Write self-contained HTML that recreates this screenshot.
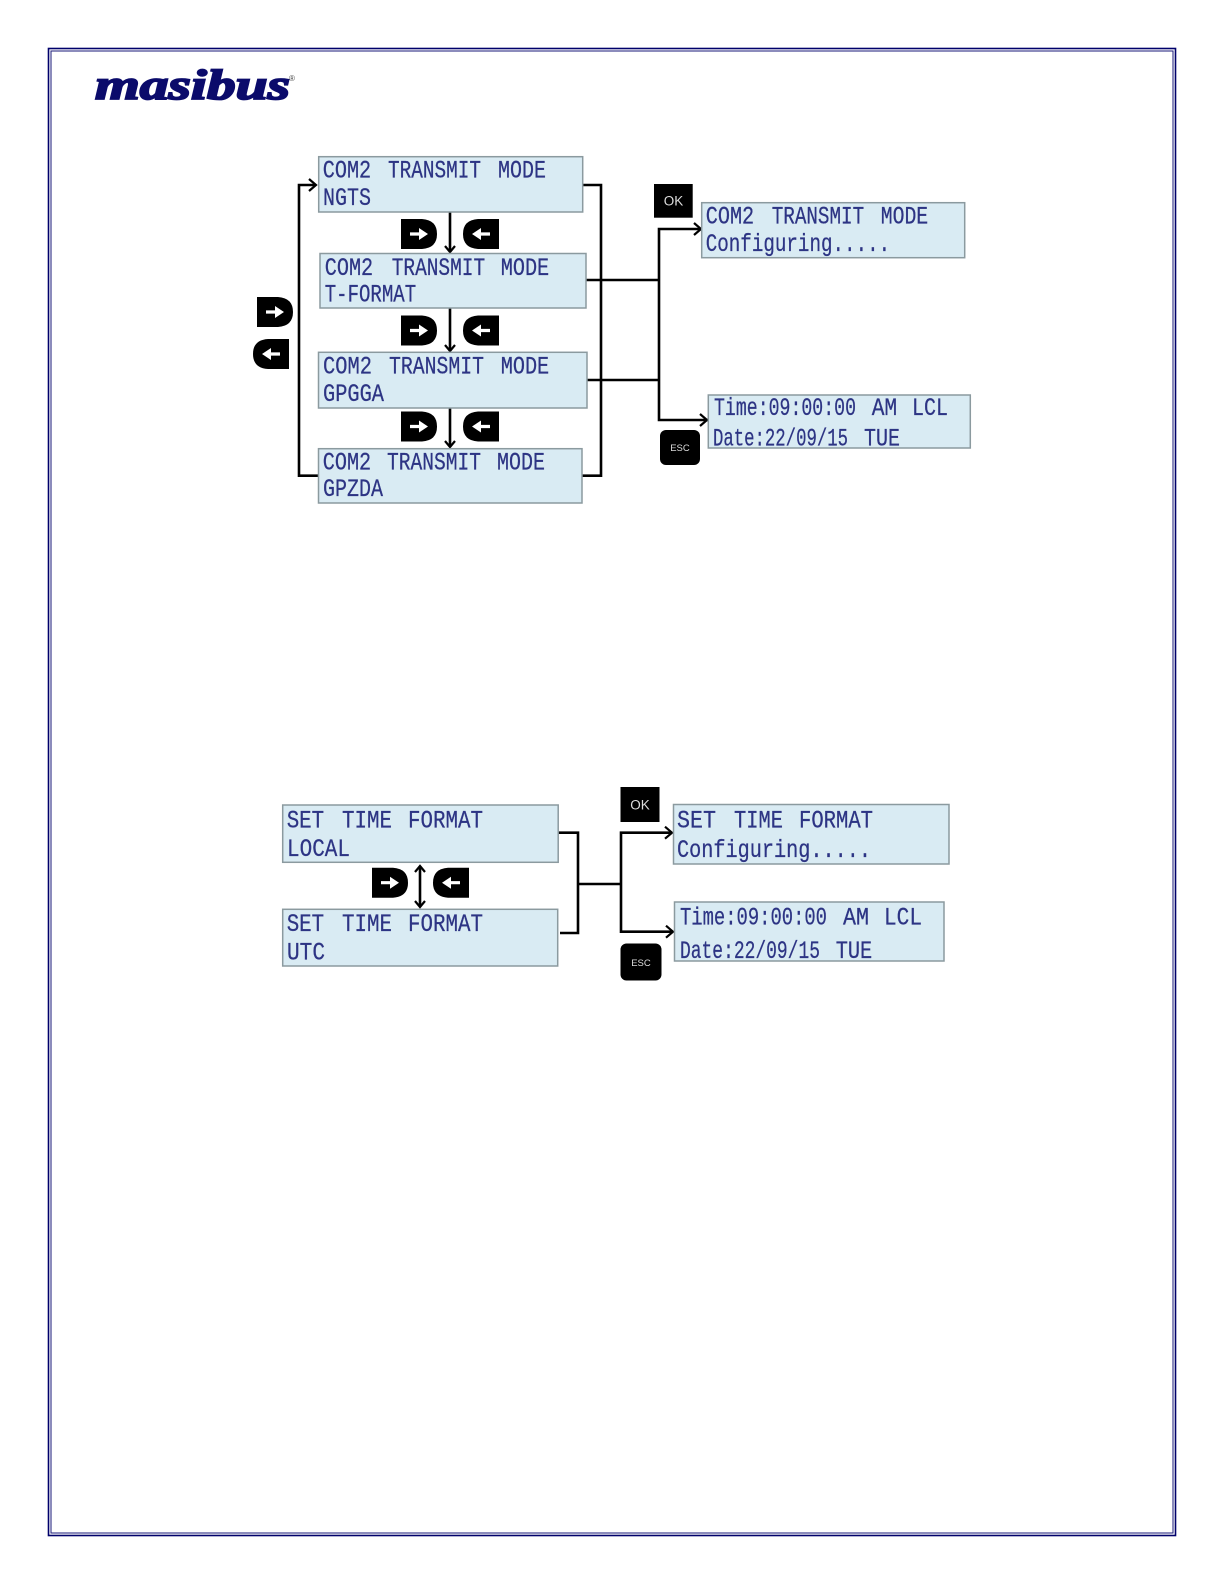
<!DOCTYPE html>
<html><head><meta charset="utf-8"><style>
html,body{margin:0;padding:0;background:#fff}
svg{display:block}
text{font-family:"Liberation Sans",sans-serif}
.t text{font-family:"Liberation Mono",monospace;font-size:25px;fill:#2d3484;stroke:#2d3484;stroke-width:.25}
.b{fill:#d9ebf3;stroke:#8b9a9f;stroke-width:1.5}
.l{fill:none;stroke:#000;stroke-width:2.6}
.a{fill:none;stroke:#000;stroke-width:2.2}
.k{font-size:12px;fill:#ddd;text-anchor:middle}
</style></head><body>
<svg width="1224" height="1584" viewBox="0 0 1224 1584" xmlns="http://www.w3.org/2000/svg">
<defs>
<g id="R"><path d="M0 0H21Q36 1 36 15Q36 29 21 30H0Z" fill="#000"/><path d="M9 13.4H18V9L27 15L18 21V16.6H9Z" fill="#fff"/></g>
<g id="L"><path d="M36 0H15Q0 1 0 15Q0 29 15 30H36Z" fill="#000"/><path d="M27 13.4H18V9L9 15L18 21V16.6H27Z" fill="#fff"/></g>
</defs>
<rect x="48.5" y="48.5" width="1127" height="1487" fill="none" stroke="#00006b" stroke-width="1.6"/>
<rect x="51" y="51" width="1122" height="1482" fill="none" stroke="#1a1a78" stroke-width="1"/>

<text x="95" y="99" font-size="42" font-weight="bold" font-style="italic" fill="#0b0b6b" stroke="#0b0b6b" stroke-width="1.8" textLength="195" lengthAdjust="spacingAndGlyphs" style="font-family:'Liberation Serif',serif">masibus</text>
<text x="289" y="81" font-size="8" fill="#444">®</text>

<!-- upper connectors -->
<path class="l" d="M318 475.7H299V185H316"/>
<path class="a" d="M309 179L316 185L309 191"/>
<path class="l" d="M582 185H601V475.7H582"/>
<path class="l" d="M586 280H659M587 380H659M708 420H659V229H701"/>
<path class="a" d="M694 223L701 229L694 235M700 414L707 420L700 426"/>
<path class="l" d="M450 212V252M450 308V351M450 408V447"/>
<path class="a" d="M445 246L450 252L455 246M445 345L450 351L455 345M445 441L450 447L455 441"/>

<!-- upper boxes -->
<rect class="b" x="318.7" y="156.7" width="264" height="55.3"/>
<rect class="b" x="320" y="253.5" width="266" height="54.5"/>
<rect class="b" x="318.5" y="352.3" width="268.5" height="55.7"/>
<rect class="b" x="318.5" y="448.7" width="263.5" height="54.3"/>
<rect class="b" x="701.7" y="202.7" width="263" height="55"/>
<rect class="b" x="708.3" y="395" width="262" height="53"/>

<g class="t">
<text x="322.7" y="177.7" textLength="48.5" lengthAdjust="spacingAndGlyphs">COM2</text>
<text x="388" y="177.7" textLength="93" lengthAdjust="spacingAndGlyphs">TRANSMIT</text>
<text x="498" y="177.7" textLength="48" lengthAdjust="spacingAndGlyphs">MODE</text>
<text x="323" y="205" textLength="48" lengthAdjust="spacingAndGlyphs">NGTS</text>

<text x="324.7" y="275" textLength="48.5" lengthAdjust="spacingAndGlyphs">COM2</text>
<text x="391.7" y="275" textLength="93.5" lengthAdjust="spacingAndGlyphs">TRANSMIT</text>
<text x="500.7" y="275" textLength="48.5" lengthAdjust="spacingAndGlyphs">MODE</text>
<text x="324.7" y="301.7" textLength="91.5" lengthAdjust="spacingAndGlyphs">T-FORMAT</text>

<text x="323" y="373.3" textLength="49" lengthAdjust="spacingAndGlyphs">COM2</text>
<text x="389" y="373.3" textLength="95" lengthAdjust="spacingAndGlyphs">TRANSMIT</text>
<text x="500.7" y="373.3" textLength="48.5" lengthAdjust="spacingAndGlyphs">MODE</text>
<text x="323" y="401" textLength="61" lengthAdjust="spacingAndGlyphs">GPGGA</text>

<text x="322.7" y="469.3" textLength="48.5" lengthAdjust="spacingAndGlyphs">COM2</text>
<text x="387" y="469.3" textLength="94" lengthAdjust="spacingAndGlyphs">TRANSMIT</text>
<text x="497" y="469.3" textLength="48" lengthAdjust="spacingAndGlyphs">MODE</text>
<text x="323" y="496" textLength="60" lengthAdjust="spacingAndGlyphs">GPZDA</text>

<text x="705.7" y="223.3" textLength="48.5" lengthAdjust="spacingAndGlyphs">COM2</text>
<text x="771.7" y="223.3" textLength="92.5" lengthAdjust="spacingAndGlyphs">TRANSMIT</text>
<text x="880.7" y="223.3" textLength="47.5" lengthAdjust="spacingAndGlyphs">MODE</text>
<text x="705.7" y="251" textLength="184.5" lengthAdjust="spacingAndGlyphs">Configuring.....</text>

<text x="714" y="415" textLength="142" lengthAdjust="spacingAndGlyphs">Time:09:00:00</text>
<text x="871.7" y="415" textLength="25.5" lengthAdjust="spacingAndGlyphs">AM</text>
<text x="912" y="415" textLength="36" lengthAdjust="spacingAndGlyphs">LCL</text>
<text x="713" y="445.7" textLength="135" lengthAdjust="spacingAndGlyphs">Date:22/09/15</text>
<text x="864" y="445.7" textLength="36" lengthAdjust="spacingAndGlyphs">TUE</text>
</g>

<!-- upper keys -->
<use href="#R" x="401" y="219"/><use href="#L" x="463" y="219"/>
<use href="#R" x="401" y="315.5"/><use href="#L" x="463" y="315.5"/>
<use href="#R" x="401" y="411.5"/><use href="#L" x="463" y="411.5"/>
<use href="#R" x="257" y="297"/><use href="#L" x="253" y="339"/>
<rect x="654" y="184" width="38.7" height="33.7" fill="#000"/>
<text class="k" x="673.5" y="205.5" style="font-size:13.5px">OK</text>
<rect x="660" y="430" width="40" height="35" rx="6" fill="#000"/>
<text class="k" x="680" y="451" style="font-size:9.5px">ESC</text>

<!-- lower connectors -->
<path class="l" d="M558 832.7H578V933H560M578 884H621"/>
<path class="l" d="M672 832.7H621V931.7H673"/>
<path class="a" d="M665 826.7L672 832.7L665 838.7M666 925.7L673 931.7L666 937.7"/>
<path class="l" d="M420 866V907"/>
<path class="a" d="M415 872L420 866L425 872M415 901L420 907L425 901"/>

<!-- lower boxes -->
<rect class="b" x="282.7" y="805" width="275.5" height="57.3"/>
<rect class="b" x="282.7" y="909.3" width="275" height="56.7"/>
<rect class="b" x="673.5" y="804.5" width="275.5" height="59.5"/>
<rect class="b" x="674.5" y="902" width="269.5" height="59"/>

<g class="t">
<text x="286.7" y="827.3" textLength="37.5" lengthAdjust="spacingAndGlyphs">SET</text>
<text x="342" y="827.3" textLength="50" lengthAdjust="spacingAndGlyphs">TIME</text>
<text x="408" y="827.3" textLength="75" lengthAdjust="spacingAndGlyphs">FORMAT</text>
<text x="287" y="856" textLength="63" lengthAdjust="spacingAndGlyphs">LOCAL</text>
<text x="286.7" y="931" textLength="37.5" lengthAdjust="spacingAndGlyphs">SET</text>
<text x="342" y="931" textLength="50" lengthAdjust="spacingAndGlyphs">TIME</text>
<text x="408" y="931" textLength="75" lengthAdjust="spacingAndGlyphs">FORMAT</text>
<text x="287" y="959.3" textLength="38" lengthAdjust="spacingAndGlyphs">UTC</text>

<text x="677" y="827.7" textLength="39" lengthAdjust="spacingAndGlyphs">SET</text>
<text x="734" y="827.7" textLength="49" lengthAdjust="spacingAndGlyphs">TIME</text>
<text x="799" y="827.7" textLength="74" lengthAdjust="spacingAndGlyphs">FORMAT</text>
<text x="677" y="857" textLength="194" lengthAdjust="spacingAndGlyphs">Configuring.....</text>

<text x="680" y="924.3" textLength="147" lengthAdjust="spacingAndGlyphs">Time:09:00:00</text>
<text x="843" y="924.3" textLength="26" lengthAdjust="spacingAndGlyphs">AM</text>
<text x="884" y="924.3" textLength="38" lengthAdjust="spacingAndGlyphs">LCL</text>
<text x="680" y="958" textLength="140" lengthAdjust="spacingAndGlyphs">Date:22/09/15</text>
<text x="835.7" y="958" textLength="36.5" lengthAdjust="spacingAndGlyphs">TUE</text>
</g>

<!-- lower keys -->
<use href="#R" x="372" y="867.7"/><use href="#L" x="433" y="867.7"/>
<rect x="620.5" y="787" width="39" height="35" fill="#000"/>
<text class="k" x="640" y="809.5" style="font-size:13.5px">OK</text>
<rect x="620.5" y="943.5" width="41" height="37" rx="6" fill="#000"/>
<text class="k" x="641" y="966" style="font-size:9.5px">ESC</text>
</svg>
</body></html>
